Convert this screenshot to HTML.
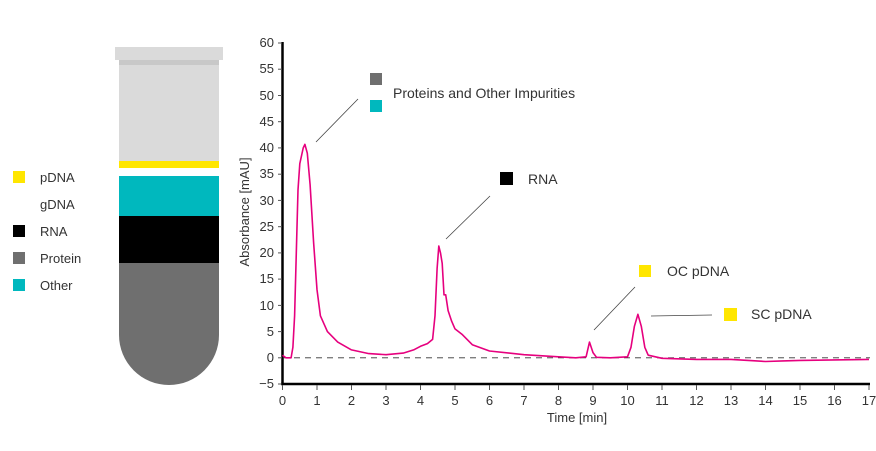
<!DOCTYPE html>
<html><head><meta charset="utf-8"><style>
body{margin:0;background:#fff;width:876px;height:446px;overflow:hidden;font-family:"Liberation Sans",sans-serif;}
</style></head><body>
<svg width="876" height="446" viewBox="0 0 876 446" xmlns="http://www.w3.org/2000/svg" font-family="Liberation Sans, sans-serif">
<rect x="115" y="47" width="108" height="13" fill="#dadada"/>
<rect x="119" y="60" width="100" height="101" fill="#dadada"/>
<rect x="119" y="60" width="100" height="5" fill="#c8c8c8"/>
<rect x="119" y="161" width="100" height="7" fill="#ffe600"/>
<rect x="119" y="176" width="100" height="40" fill="#00b8be"/>
<rect x="119" y="216" width="100" height="47" fill="#000"/>
<path d="M119 263 H219 V335 A50 50 0 0 1 119 335 Z" fill="#6f6f6f"/>
<g font-size="13" fill="#333">
<rect x="13" y="171" width="12" height="12" fill="#ffe600"/><text x="40" y="182">pDNA</text>
<text x="40" y="209">gDNA</text>
<rect x="13" y="225" width="12" height="12" fill="#000"/><text x="40" y="236">RNA</text>
<rect x="13" y="252" width="12" height="12" fill="#6f6f6f"/><text x="40" y="263">Protein</text>
<rect x="13" y="279" width="12" height="12" fill="#00b8be"/><text x="40" y="290">Other</text>
</g>
<g stroke="#000" stroke-width="2.5" fill="none">
<line x1="282.5" y1="42" x2="282.5" y2="385"/>
<line x1="281" y1="384" x2="870" y2="384"/>
</g>
<g stroke="#555" stroke-width="1">
<line x1="278" y1="43" x2="282" y2="43"/><line x1="278" y1="69.2" x2="282" y2="69.2"/><line x1="278" y1="95.5" x2="282" y2="95.5"/><line x1="278" y1="121.7" x2="282" y2="121.7"/><line x1="278" y1="147.9" x2="282" y2="147.9"/><line x1="278" y1="174.2" x2="282" y2="174.2"/><line x1="278" y1="200.4" x2="282" y2="200.4"/><line x1="278" y1="226.7" x2="282" y2="226.7"/><line x1="278" y1="252.9" x2="282" y2="252.9"/><line x1="278" y1="279.1" x2="282" y2="279.1"/><line x1="278" y1="305.4" x2="282" y2="305.4"/><line x1="278" y1="331.6" x2="282" y2="331.6"/><line x1="278" y1="357.8" x2="282" y2="357.8"/><line x1="278" y1="384" x2="282" y2="384"/>
</g>
<g font-size="13" fill="#333" text-anchor="end">
<text x="274" y="47">60</text><text x="274" y="73">55</text><text x="274" y="100">50</text><text x="274" y="126">45</text><text x="274" y="152">40</text><text x="274" y="178">35</text><text x="274" y="205">30</text><text x="274" y="231">25</text><text x="274" y="257">20</text><text x="274" y="283">15</text><text x="274" y="310">10</text><text x="274" y="336">5</text><text x="274" y="362">0</text><text x="274" y="388">−5</text>
</g>
<g id="xt" stroke="#555" stroke-width="1"></g>
<g font-size="13" fill="#333" text-anchor="middle" id="xl"></g>
<text x="577" y="422" font-size="13" fill="#333" text-anchor="middle">Time [min]</text>
<text transform="translate(249,212) rotate(-90)" font-size="13" fill="#333" text-anchor="middle">Absorbance [mAU]</text>
<line x1="283" y1="357.8" x2="870" y2="357.8" stroke="#333" stroke-width="0.8" stroke-dasharray="6,5"/>
<polyline id="curve" fill="none" stroke="#e6007e" stroke-width="1.6" stroke-linejoin="round"/>
<g stroke="#444" stroke-width="0.8">
<line x1="316" y1="142" x2="358" y2="99"/><line x1="446" y1="239" x2="490" y2="196"/><line x1="594" y1="330" x2="635" y2="287"/><line x1="651" y1="316" x2="712" y2="315"/>
</g>
<rect x="370" y="73" width="12" height="12" fill="#6f6f6f"/>
<rect x="370" y="100" width="12" height="12" fill="#00b8be"/>
<rect x="500" y="172" width="13" height="13" fill="#000"/>
<rect x="639" y="265" width="12" height="12" fill="#ffe600"/>
<rect x="724" y="308" width="13" height="13" fill="#ffe600"/>
<g font-size="14" fill="#333">
<text x="393" y="98">Proteins and Other Impurities</text>
<text x="528" y="184">RNA</text>
<text x="667" y="276">OC pDNA</text>
<text x="751" y="319">SC pDNA</text>
</g>
</svg>
<script>
var d=[[0,0.5],[0.1,0],[0.25,0],[0.3,2],[0.35,8],[0.4,20],[0.45,32],[0.5,37],[0.6,40],[0.65,40.7],[0.72,39],[0.8,33],[0.9,22],[1.0,13],[1.1,8],[1.3,5],[1.6,3],[2,1.5],[2.5,0.8],[3,0.6],[3.5,0.9],[3.8,1.5],[4,2.2],[4.2,2.7],[4.35,3.5],[4.42,8],[4.48,17],[4.53,21.3],[4.58,20],[4.63,18],[4.68,12],[4.73,12],[4.8,9],[4.9,7],[5,5.5],[5.2,4.5],[5.5,2.5],[6,1.3],[7,0.6],[8,0.2],[8.5,0],[8.8,0.2],[8.9,3],[9,1],[9.1,0.1],[9.5,0],[10,0.2],[10.1,2],[10.2,6],[10.3,8.3],[10.4,6],[10.5,2],[10.6,0.5],[11,-0.1],[12,-0.3],[13,-0.3],[13.5,-0.5],[14,-0.7],[14.5,-0.6],[15,-0.5],[16,-0.4],[17,-0.3]];
document.getElementById('curve').setAttribute('points',d.map(function(p){return (282.5+34.5*p[0]).toFixed(1)+','+(357.8-5.246*p[1]).toFixed(1)}).join(' '));
var ns='http://www.w3.org/2000/svg',xt=document.getElementById('xt'),xl=document.getElementById('xl');
for(var i=0;i<=17;i++){var x=282.5+34.5*i;var l=document.createElementNS(ns,'line');l.setAttribute('x1',x);l.setAttribute('x2',x);l.setAttribute('y1',385);l.setAttribute('y2',390);xt.appendChild(l);
var t=document.createElementNS(ns,'text');t.setAttribute('x',x);t.setAttribute('y',405);t.textContent=i;xl.appendChild(t);}
</script>
</body></html>
